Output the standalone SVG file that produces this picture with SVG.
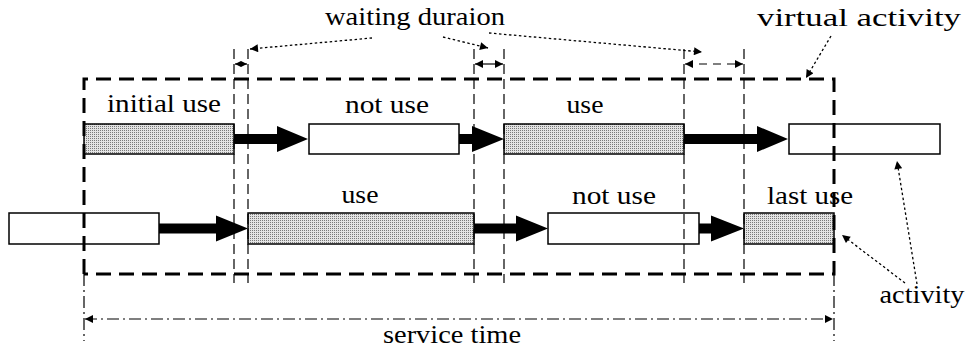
<svg xmlns="http://www.w3.org/2000/svg" width="969" height="354" viewBox="0 0 969 354" font-family="'Liberation Serif', 'Times New Roman', serif">
<style>
text{font-family:"Liberation Serif","Times New Roman",serif;font-size:26px;fill:#000}
.box{stroke:#000;stroke-width:1.5}
.white{fill:#fff}
.shade{fill:url(#dots)}
.vd{stroke:#000;stroke-width:1.2;stroke-dasharray:10,5;fill:none}
.frame{stroke:#000;stroke-width:3;stroke-dasharray:15,8;fill:none}
.dd{stroke:#000;stroke-width:1.2;stroke-dasharray:12,4,2,4;fill:none}
.dot{stroke:#000;stroke-width:1.3;stroke-dasharray:2.5,2.5;fill:none}
.sol{stroke:#000;stroke-width:1.2;fill:none}
.dash{stroke:#000;stroke-width:1.2;stroke-dasharray:8,6;fill:none}
</style>
<defs>
<pattern id="dots" width="2" height="2" patternUnits="userSpaceOnUse">
<rect width="2" height="2" fill="#e4e4e4"/>
<rect width="1" height="1" fill="#7a7a7a"/>
</pattern>
<marker id="ah" viewBox="0 0 10 10" refX="10" refY="5" markerWidth="11" markerHeight="8" markerUnits="userSpaceOnUse" orient="auto-start-reverse">
<path d="M0,0 L10,5 L0,10 Z" fill="#000"/>
</marker>
<marker id="ahs" viewBox="0 0 10 10" refX="10" refY="5" markerWidth="6" markerHeight="6" markerUnits="userSpaceOnUse" orient="auto-start-reverse">
<path d="M0,0 L10,5 L0,10 Z" fill="#000"/>
</marker>
</defs>

<g id="top-initial-use"><rect class="box shade" x="84" y="124" width="150" height="30"/><text x="164" y="112" text-anchor="middle" textLength="114" lengthAdjust="spacingAndGlyphs">initial use</text></g>
<g id="top-not-use"><rect class="box white" x="309" y="124" width="150" height="30"/><text x="387" y="113" text-anchor="middle" textLength="84" lengthAdjust="spacingAndGlyphs">not use</text></g>
<g id="top-use"><rect class="box shade" x="504" y="124" width="180" height="30"/><text x="585" y="113" text-anchor="middle" textLength="37" lengthAdjust="spacingAndGlyphs">use</text></g>
<g id="top-virtual"><rect class="box white" x="789" y="124" width="151" height="30"/></g>

<g id="bot-virtual"><rect class="box white" x="9" y="213" width="150" height="31"/></g>
<g id="bot-use"><rect class="box shade" x="248" y="213" width="226" height="31"/><text x="360" y="203" text-anchor="middle" textLength="37" lengthAdjust="spacingAndGlyphs">use</text></g>
<g id="bot-not-use"><rect class="box white" x="548" y="213" width="151" height="31"/><text x="614" y="204" text-anchor="middle" textLength="84" lengthAdjust="spacingAndGlyphs">not use</text></g>
<g id="bot-last-use"><rect class="box shade" x="744" y="213" width="90" height="31"/><text x="810" y="204" text-anchor="middle" textLength="86" lengthAdjust="spacingAndGlyphs">last use</text></g>

<g id="labels">
<text x="415" y="25" text-anchor="middle" textLength="180" lengthAdjust="spacingAndGlyphs">waiting duraion</text>
<text x="859" y="26" text-anchor="middle" textLength="204" lengthAdjust="spacingAndGlyphs">virtual activity</text>
<text x="922" y="303" text-anchor="middle" textLength="85" lengthAdjust="spacingAndGlyphs">activity</text>
<text x="452" y="343" text-anchor="middle" textLength="138" lengthAdjust="spacingAndGlyphs">service time</text>
</g>

<g id="connectors">
<path d="M234,134 H277 V126 L308,139 L277,152 V144 H234 Z" fill="#000"/>
<path d="M459,134 H472 V126 L504,139 L472,152 V144 H459 Z" fill="#000"/>
<path d="M684,134 H757 V126 L788,139 L757,152 V144 H684 Z" fill="#000"/>
<path d="M159,223.5 H216 V215.5 L248,228.5 L216,241.5 V233.5 H159 Z" fill="#000"/>
<path d="M474,223.5 H516 V215.5 L548,228.5 L516,241.5 V233.5 H474 Z" fill="#000"/>
<path d="M699,223.5 H711 V215.5 L744,228.5 L711,241.5 V233.5 H699 Z" fill="#000"/>

<line class="vd" x1="234" y1="49" x2="234" y2="283"/>
<line class="vd" x1="248" y1="49" x2="248" y2="283"/>
<line class="vd" x1="474" y1="49" x2="474" y2="283"/>
<line class="vd" x1="504" y1="49" x2="504" y2="283"/>
<line class="vd" x1="684" y1="49" x2="684" y2="283"/>
<line class="vd" x1="744" y1="49" x2="744" y2="283"/>

<path class="frame" d="M84,274 V79 H834 V274 H84"/>

<line class="dd" x1="84" y1="274" x2="84" y2="341"/>
<line class="dd" x1="834" y1="274" x2="834" y2="341"/>
<line class="dd" x1="85" y1="319" x2="833" y2="319" marker-start="url(#ah)" marker-end="url(#ah)"/>

<line class="sol" x1="235" y1="64" x2="247" y2="64" marker-start="url(#ahs)" marker-end="url(#ahs)"/>
<line class="sol" x1="475" y1="64" x2="503" y2="64" marker-start="url(#ah)" marker-end="url(#ah)"/>
<line class="dash" x1="685" y1="64" x2="743" y2="64" marker-start="url(#ah)" marker-end="url(#ah)"/>

<line class="dot" x1="372" y1="38" x2="250" y2="49" marker-end="url(#ah)"/>
<line class="dot" x1="443" y1="37" x2="488" y2="48" marker-end="url(#ah)"/>
<line class="dot" x1="489" y1="33" x2="702" y2="52" marker-end="url(#ah)"/>
<line class="dot" x1="831" y1="36" x2="806" y2="78" marker-end="url(#ah)"/>
<line class="dot" x1="917" y1="284" x2="897" y2="161" marker-end="url(#ah)"/>
<line class="dot" x1="905" y1="283" x2="842" y2="235" marker-end="url(#ah)"/>
</g>
</svg>
